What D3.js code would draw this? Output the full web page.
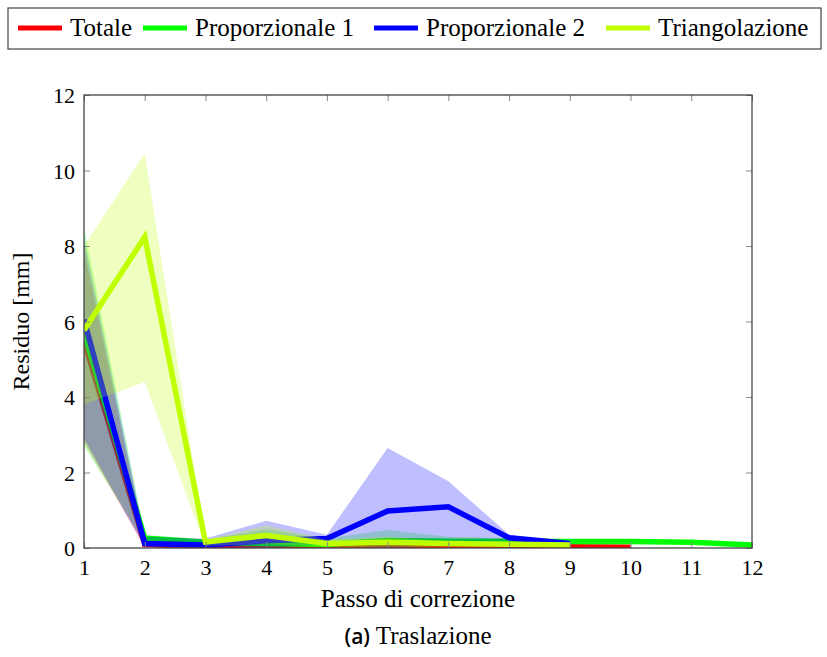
<!DOCTYPE html>
<html>
<head>
<meta charset="utf-8">
<script src="https://cdn.jsdelivr.net/npm/d3@7"></script>
<style>
  html, body { margin: 0; padding: 0; background: #fff; }
  svg { display: block; }
</style>
</head>
<body>
<svg id="chart" width="827" height="657"></svg>
<script>
// ---- data ----
const xTicks = [1,2,3,4,5,6,7,8,9,10,11,12];
const yTicks = [0,2,4,6,8,10,12];

const totaleX  = [1,2,3,4,5,6,7,8,9,10];
const totale   = [5.5, 0.10, 0.03, 0.05, 0.03, 0.07, 0.03, 0.03, 0.03, 0.02];
const totaleLo = [2.8, 0.02, 0.00, 0.00, 0.00, 0.00, 0.00, 0.00, 0.00, 0.00];
const totaleHi = [7.9, 0.20, 0.08, 0.10, 0.08, 0.12, 0.08, 0.07, 0.06, 0.04];

const prop1X  = [1,2,3,4,5,6,7,8,9,10,11,12];
const prop1   = [5.7, 0.26, 0.15, 0.12, 0.10, 0.20, 0.18, 0.18, 0.17, 0.17, 0.15, 0.08];
const prop1Lo = [2.7, 0.15, 0.08, 0.00, 0.00, 0.00, 0.05, 0.05, 0.10, 0.10, 0.10, 0.03];
const prop1Hi = [8.5, 0.35, 0.22, 0.50, 0.25, 0.48, 0.30, 0.25, 0.22, 0.22, 0.20, 0.12];

const prop2X  = [1,2,3,4,5,6,7,8,9];
const prop2   = [6.05, 0.12, 0.08, 0.19, 0.25, 0.98, 1.09, 0.27, 0.12];
const prop2Lo = [2.9, 0.02, 0.00, 0.00, 0.10, 0.00, 0.10, 0.18, 0.08];
const prop2Hi = [8.2, 0.30, 0.25, 0.72, 0.35, 2.65, 1.77, 0.35, 0.15];

const triangX  = [1,2,3,4,5,6,7,8,9];
const triang   = [5.77, 8.24, 0.16, 0.33, 0.12, 0.15, 0.12, 0.10, 0.08];
const triangLo = [3.8, 4.4, 0.05, 0.10, 0.02, 0.02, 0.02, 0.02, 0.02];
const triangHi = [8.0, 10.45, 0.22, 0.60, 0.22, 0.30, 0.18, 0.15, 0.15];

const seriesNames  = ["Totale", "Proporzionale 1", "Proporzionale 2", "Triangolazione"];
const seriesColors = ["#ff0000", "#00ff00", "#0000ff", "#bfff00"];

// ---- layout ----
const svg = d3.select("#chart");
const serif = "'Liberation Serif', 'DejaVu Serif', serif";
const L = 84, R = 752, T = 95, B = 548;

const x = d3.scaleLinear().domain([1, 12]).range([L, R]);
const y = d3.scaleLinear().domain([0, 12]).range([B, T]);

svg.append("defs").append("clipPath").attr("id", "clip")
  .append("rect").attr("x", L).attr("y", T).attr("width", R - L).attr("height", B - T);

const series = [
  {xs: totaleX, v: totale, lo: totaleLo, hi: totaleHi},
  {xs: prop1X,  v: prop1,  lo: prop1Lo,  hi: prop1Hi},
  {xs: prop2X,  v: prop2,  lo: prop2Lo,  hi: prop2Hi},
  {xs: triangX, v: triang, lo: triangLo, hi: triangHi}
];

const plot = svg.append("g").attr("clip-path", "url(#clip)");

series.forEach((s, i) => {
  const pts = s.xs.map((xv, j) => ({x: xv, v: s.v[j], lo: s.lo[j], hi: s.hi[j]}));
  const area = d3.area().x(d => x(d.x)).y0(d => y(d.lo)).y1(d => y(d.hi));
  const line = d3.line().x(d => x(d.x)).y(d => y(d.v));
  plot.append("path").attr("d", area(pts))
    .attr("fill", seriesColors[i]).attr("fill-opacity", 0.25).attr("stroke", "none");
  plot.append("path").attr("d", line(pts))
    .attr("fill", "none").attr("stroke", seriesColors[i])
    .attr("stroke-width", 5.5).attr("stroke-linejoin", "miter");
});

// ---- axes ----
const tickColor = "#888";
const gx = svg.append("g").attr("transform", `translate(0,${B})`)
  .call(d3.axisBottom(x).tickValues(xTicks).tickSizeInner(-6).tickSizeOuter(0).tickPadding(9).tickFormat(d3.format("d")));
const gxTop = svg.append("g").attr("transform", `translate(0,${T})`)
  .call(d3.axisTop(x).tickValues(xTicks).tickSizeInner(-6).tickSizeOuter(0).tickFormat(""));
const gy = svg.append("g").attr("transform", `translate(${L},0)`)
  .call(d3.axisLeft(y).tickValues(yTicks).tickSizeInner(-6).tickSizeOuter(0).tickPadding(9).tickFormat(d3.format("d")));
const gyR = svg.append("g").attr("transform", `translate(${R},0)`)
  .call(d3.axisRight(y).tickValues(yTicks).tickSizeInner(-6).tickSizeOuter(0).tickFormat(""));

[gx, gxTop, gy, gyR].forEach(g => {
  g.select(".domain").remove();
  g.selectAll(".tick line").attr("stroke", tickColor).attr("stroke-width", 1);
  g.selectAll(".tick text").attr("font-family", serif).attr("font-size", 22).attr("fill", "#000");
});
gx.selectAll(".tick text").attr("dy", "0.8em");
gy.selectAll(".tick text").attr("dy", "0.35em");

svg.append("rect").attr("x", L).attr("y", T).attr("width", R - L).attr("height", B - T)
  .attr("fill", "none").attr("stroke", "#444").attr("stroke-width", 1.3);

// axis labels
svg.append("text").attr("x", (L + R) / 2).attr("y", 607).attr("text-anchor", "middle")
  .attr("font-family", serif).attr("font-size", 25).text("Passo di correzione");
svg.append("text").attr("transform", `translate(29,${(T + B) / 2}) rotate(-90)`)
  .attr("text-anchor", "middle").attr("font-family", serif).attr("font-size", 24).text("Residuo [mm]");

// caption
const cap = svg.append("text").attr("x", (L + R) / 2).attr("y", 644).attr("text-anchor", "middle");
cap.append("tspan").attr("font-family", "'Open Sans', sans-serif").attr("font-weight", 600)
  .attr("font-size", 21).text("(a)");
cap.append("tspan").attr("font-family", serif).attr("font-size", 25).text(" Traslazione");

// ---- legend ----
const leg = svg.append("g");
leg.append("rect").attr("x", 8).attr("y", 8).attr("width", 813).attr("height", 41)
  .attr("fill", "#fff").attr("stroke", "#444").attr("stroke-width", 1.2);
const legX = [18, 143, 374, 606];
seriesNames.forEach((n, i) => {
  leg.append("line").attr("x1", legX[i]).attr("x2", legX[i] + 44).attr("y1", 28).attr("y2", 28)
    .attr("stroke", seriesColors[i]).attr("stroke-width", 5);
  leg.append("text").attr("x", legX[i] + 52).attr("y", 36)
    .attr("font-family", serif).attr("font-size", 25).text(n);
});
</script>
</body>
</html>
